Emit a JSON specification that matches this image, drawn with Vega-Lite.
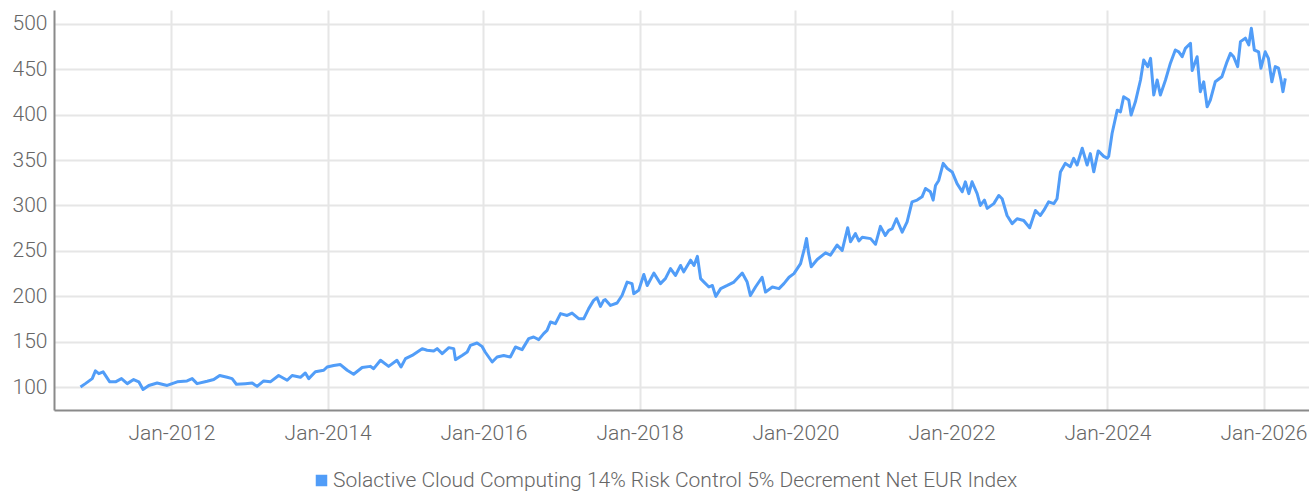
{
  "$schema": "https://vega.github.io/schema/vega-lite/v6.json",
  "width": 1255,
  "height": 400,
  "autosize": {"type": "none"},
  "padding": {"left": 54, "top": 10, "right": 0, "bottom": 82},
  "background": "white",
  "config": {"view": {"stroke": null}, "font": "Roboto"},
  "data": {"values": [
    {"d":"2010-11-01","v":100.3},{"d":"2010-11-24","v":104},{"d":"2010-12-26","v":109.5},{"d":"2011-01-10","v":118},{"d":"2011-01-26","v":115},{"d":"2011-02-15","v":117},{"d":"2011-03-18","v":106},{"d":"2011-04-14","v":106},{"d":"2011-05-12","v":109.5},{"d":"2011-06-08","v":104},{"d":"2011-07-08","v":108.5},{"d":"2011-08-01","v":106},{"d":"2011-08-21","v":97.5},{"d":"2011-09-17","v":102},{"d":"2011-10-26","v":104.7},{"d":"2011-12-12","v":102},
    {"d":"2012-01-28","v":106},{"d":"2012-03-14","v":107},{"d":"2012-04-07","v":109.5},{"d":"2012-04-30","v":104},{"d":"2012-06-16","v":106.6},{"d":"2012-07-17","v":108.5},{"d":"2012-08-14","v":113},{"d":"2012-09-18","v":111},{"d":"2012-10-11","v":109.5},{"d":"2012-10-31","v":103.3},{"d":"2012-12-12","v":104},
    {"d":"2013-01-13","v":104.7},{"d":"2013-02-05","v":101},{"d":"2013-03-08","v":107},{"d":"2013-04-08","v":106},{"d":"2013-05-17","v":113},{"d":"2013-06-26","v":107.7},{"d":"2013-07-19","v":113},{"d":"2013-08-27","v":111},{"d":"2013-09-19","v":115.7},{"d":"2013-10-05","v":109.5},{"d":"2013-11-05","v":117},{"d":"2013-12-14","v":118.7},{"d":"2013-12-30","v":122.3},
    {"d":"2014-01-30","v":124},{"d":"2014-03-02","v":125},{"d":"2014-04-03","v":118.7},{"d":"2014-05-03","v":114.3},{"d":"2014-06-12","v":121.7},{"d":"2014-07-20","v":123},{"d":"2014-08-05","v":120.5},{"d":"2014-09-06","v":129.7},{"d":"2014-10-14","v":123},{"d":"2014-11-22","v":129.7},{"d":"2014-12-11","v":122.3},
    {"d":"2015-01-01","v":131.5},{"d":"2015-02-01","v":135},{"d":"2015-03-20","v":142.5},{"d":"2015-04-12","v":140.7},{"d":"2015-05-13","v":140},{"d":"2015-05-29","v":142.5},{"d":"2015-06-22","v":137},{"d":"2015-07-23","v":143.6},{"d":"2015-08-15","v":142.5},{"d":"2015-08-23","v":130.4},{"d":"2015-09-23","v":135},{"d":"2015-10-17","v":138.8},{"d":"2015-11-01","v":146},{"d":"2015-12-02","v":148.7},{"d":"2015-12-25","v":145},
    {"d":"2016-01-09","v":138.8},{"d":"2016-02-11","v":127.8},{"d":"2016-03-05","v":133.3},{"d":"2016-04-05","v":135},{"d":"2016-05-06","v":133.3},{"d":"2016-05-30","v":144.3},{"d":"2016-06-30","v":141.4},{"d":"2016-07-31","v":153.5},{"d":"2016-08-23","v":155.3},{"d":"2016-09-16","v":152.4},{"d":"2016-10-09","v":159},{"d":"2016-10-25","v":162.6},{"d":"2016-11-10","v":171.8},{"d":"2016-12-03","v":170},{"d":"2016-12-27","v":181},
    {"d":"2017-01-27","v":179},{"d":"2017-02-19","v":181.6},{"d":"2017-03-22","v":175.5},{"d":"2017-04-15","v":175.5},{"d":"2017-05-08","v":186.5},{"d":"2017-05-31","v":195.6},{"d":"2017-06-16","v":198.5},{"d":"2017-07-02","v":189},{"d":"2017-07-17","v":195.6},{"d":"2017-07-25","v":196.4},{"d":"2017-08-18","v":190},{"d":"2017-09-18","v":192.7},{"d":"2017-10-11","v":201},{"d":"2017-11-04","v":215.7},{"d":"2017-11-27","v":214},{"d":"2017-12-05","v":203},{"d":"2017-12-28","v":206.6},
    {"d":"2018-01-21","v":224},{"d":"2018-02-06","v":212},{"d":"2018-03-09","v":225.6},{"d":"2018-04-09","v":214},{"d":"2018-05-02","v":219.5},{"d":"2018-05-26","v":230.5},{"d":"2018-06-18","v":223},{"d":"2018-07-12","v":234},{"d":"2018-07-27","v":227},{"d":"2018-08-28","v":239.8},{"d":"2018-09-13","v":234},{"d":"2018-09-29","v":244},{"d":"2018-10-14","v":219.5},{"d":"2018-10-30","v":215.7},{"d":"2018-11-22","v":210.3},{"d":"2018-12-08","v":212},{"d":"2018-12-24","v":200},
    {"d":"2019-01-16","v":208.5},{"d":"2019-02-16","v":212},{"d":"2019-03-19","v":215.7},{"d":"2019-04-27","v":225.6},{"d":"2019-05-20","v":215.7},{"d":"2019-06-04","v":201},{"d":"2019-06-28","v":210.3},{"d":"2019-07-29","v":221},{"d":"2019-08-14","v":204.7},{"d":"2019-09-15","v":210.3},{"d":"2019-10-16","v":208.5},{"d":"2019-11-08","v":214},{"d":"2019-12-02","v":221},{"d":"2019-12-25","v":225},
    {"d":"2020-01-25","v":236},{"d":"2020-02-12","v":252.6},{"d":"2020-02-22","v":263.6},{"d":"2020-03-03","v":247},{"d":"2020-03-15","v":232.5},{"d":"2020-04-12","v":240.6},{"d":"2020-05-21","v":247.9},{"d":"2020-06-13","v":245.4},{"d":"2020-07-14","v":256.4},{"d":"2020-08-07","v":250.6},{"d":"2020-09-02","v":275.5},{"d":"2020-09-15","v":260},{"d":"2020-10-08","v":269},{"d":"2020-10-24","v":261},{"d":"2020-11-09","v":265},{"d":"2020-12-18","v":263.5},
    {"d":"2021-01-10","v":257.3},{"d":"2021-02-02","v":277},{"d":"2021-02-25","v":267},{"d":"2021-03-13","v":272.5},{"d":"2021-03-29","v":274.4},{"d":"2021-04-18","v":285.4},{"d":"2021-05-15","v":270.7},{"d":"2021-06-07","v":282},{"d":"2021-06-30","v":304},{"d":"2021-07-24","v":305.9},{"d":"2021-08-16","v":309.5},{"d":"2021-09-01","v":318.7},{"d":"2021-09-24","v":315},{"d":"2021-10-07","v":305.9},{"d":"2021-10-18","v":322},{"d":"2021-11-02","v":327.5},{"d":"2021-11-23","v":346.3},{"d":"2021-12-12","v":340.6},
    {"d":"2022-01-04","v":336.9},{"d":"2022-01-27","v":324},{"d":"2022-02-20","v":315},{"d":"2022-03-07","v":326},{"d":"2022-03-23","v":313},{"d":"2022-04-07","v":326},{"d":"2022-05-01","v":313},{"d":"2022-05-16","v":300},{"d":"2022-06-04","v":305.9},{"d":"2022-06-17","v":296.8},{"d":"2022-07-18","v":302},{"d":"2022-08-10","v":311},{"d":"2022-08-26","v":307.4},{"d":"2022-09-18","v":289},{"d":"2022-10-12","v":280},{"d":"2022-11-04","v":285.4},{"d":"2022-12-05","v":283.5},
    {"d":"2023-01-02","v":275.5},{"d":"2023-01-29","v":294.5},{"d":"2023-02-21","v":289},{"d":"2023-03-09","v":294.5},{"d":"2023-04-01","v":304},{"d":"2023-04-25","v":302},{"d":"2023-05-10","v":307.4},{"d":"2023-05-26","v":336.9},{"d":"2023-06-18","v":346.3},{"d":"2023-07-11","v":342.6},{"d":"2023-07-27","v":351.8},{"d":"2023-08-12","v":344.5},{"d":"2023-09-05","v":362.9},{"d":"2023-09-28","v":344.5},{"d":"2023-10-13","v":357},{"d":"2023-10-29","v":337},{"d":"2023-11-19","v":360},{"d":"2023-12-15","v":354},{"d":"2023-12-31","v":352},
    {"d":"2024-01-07","v":354},{"d":"2024-01-23","v":379.4},{"d":"2024-02-16","v":404.8},{"d":"2024-03-02","v":403},{"d":"2024-03-17","v":419.5},{"d":"2024-04-10","v":416},{"d":"2024-04-21","v":399.5},{"d":"2024-05-11","v":414},{"d":"2024-06-04","v":438},{"d":"2024-06-19","v":460},{"d":"2024-07-08","v":452.7},{"d":"2024-07-21","v":461.8},{"d":"2024-08-05","v":421.5},{"d":"2024-08-21","v":438},{"d":"2024-09-05","v":421.5},{"d":"2024-09-29","v":438},{"d":"2024-10-22","v":456.5},{"d":"2024-11-14","v":471},{"d":"2024-11-30","v":469},{"d":"2024-12-16","v":463.6},{"d":"2024-12-31","v":472.8},
    {"d":"2025-01-24","v":478.4},{"d":"2025-02-01","v":448.4},{"d":"2025-02-24","v":463.6},{"d":"2025-03-11","v":425.2},{"d":"2025-03-27","v":436},{"d":"2025-04-12","v":408.5},{"d":"2025-04-27","v":416},{"d":"2025-05-20","v":436},{"d":"2025-06-20","v":441.5},{"d":"2025-07-14","v":458},{"d":"2025-07-30","v":467.3},{"d":"2025-08-14","v":463.6},{"d":"2025-09-02","v":452.7},{"d":"2025-09-15","v":480.2},{"d":"2025-10-08","v":484},{"d":"2025-10-24","v":476.6},{"d":"2025-11-05","v":495},{"d":"2025-11-19","v":471},{"d":"2025-12-09","v":469},{"d":"2025-12-20","v":451},
    {"d":"2026-01-09","v":469},{"d":"2026-01-24","v":461.8},{"d":"2026-02-09","v":436},{"d":"2026-02-25","v":452.7},{"d":"2026-03-12","v":451},{"d":"2026-03-24","v":438},{"d":"2026-04-02","v":425.2},{"d":"2026-04-13","v":439.8}
  ]},
  "mark": {"type": "line", "strokeWidth": 3, "strokeJoin": "round"},
  "encoding": {
    "x": {
      "field": "d", "type": "temporal",
      "scale": {"domain": [{"year": 2010, "month": 6, "date": 30}, {"year": 2026, "month": 8, "date": 2}]},
      "axis": {
        "title": null,
        "values": [
          {"year": 2012, "month": 1, "date": 1}, {"year": 2014, "month": 1, "date": 1},
          {"year": 2016, "month": 1, "date": 1}, {"year": 2018, "month": 1, "date": 1},
          {"year": 2020, "month": 1, "date": 1}, {"year": 2022, "month": 1, "date": 1},
          {"year": 2024, "month": 1, "date": 1}, {"year": 2026, "month": 1, "date": 1}
        ],
        "format": "%b-%Y",
        "ticks": false,
        "labelPadding": 12,
        "labelFont": "Roboto", "labelFontWeight": 300, "labelFontSize": 21, "labelColor": "#666666",
        "domainColor": "#8a8a8a", "domainWidth": 2,
        "gridColor": "#e6e6e6", "gridWidth": 2
      }
    },
    "y": {
      "field": "v", "type": "quantitative",
      "scale": {"domain": [75, 515], "zero": false, "nice": false},
      "axis": {
        "title": null,
        "values": [100, 150, 200, 250, 300, 350, 400, 450, 500],
        "ticks": false,
        "labelPadding": 7,
        "labelFont": "Roboto", "labelFontWeight": 300, "labelFontSize": 21, "labelColor": "#666666",
        "domainColor": "#8a8a8a", "domainWidth": 2,
        "gridColor": "#e6e6e6", "gridWidth": 2
      }
    },
    "color": {
      "datum": "Solactive Cloud Computing 14% Risk Control 5% Decrement Net EUR Index",
      "scale": {"range": ["#519df8"]},
      "legend": {
        "title": null,
        "orient": "none",
        "legendX": 257,
        "legendY": 460,
        "direction": "horizontal",
        "symbolType": "square",
        "symbolSize": 100,
        "labelOffset": 1,
        "labelLimit": 0,
        "labelFont": "Roboto", "labelFontWeight": 300, "labelFontSize": 21, "labelColor": "#666666",
        "encode": {"symbols": {"update": {"fill": {"value": "#519df8"}, "stroke": {"value": "transparent"}}}}
      }
    }
  }
}
